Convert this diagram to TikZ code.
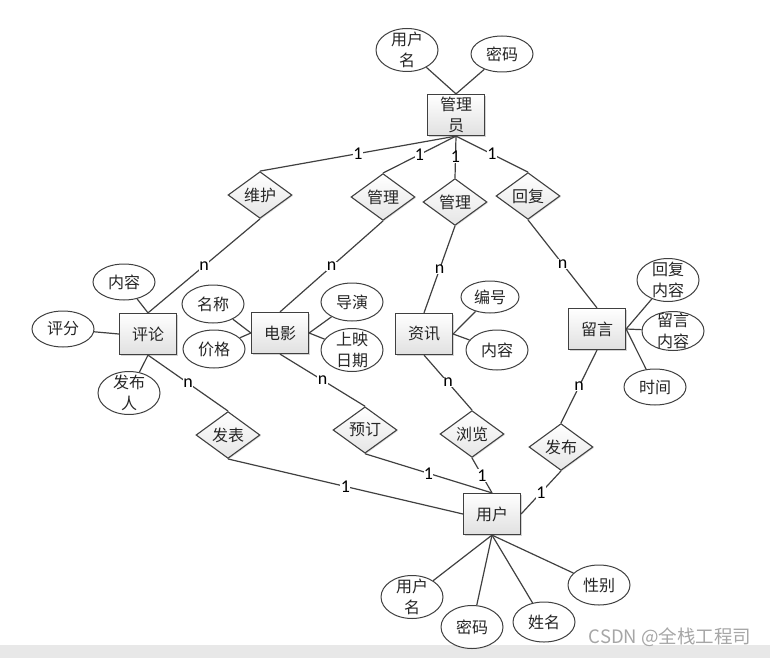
\documentclass[tikz,border=0pt]{standalone}
\usepackage{fontspec}
\setmainfont{Noto Sans CJK SC}
\newfontfamily\cardfont{Carlito}
\usetikzlibrary{shapes.geometric,shadows}
\definecolor{erline}{RGB}{64,64,64}
\definecolor{ertext}{RGB}{38,38,38}
\tikzset{
  er text/.style={font=\fontsize{16}{21}\selectfont,text=ertext},
  entity box/.style={er text,draw=erline,line width=1.2pt,align=center,
    minimum width=57pt,minimum height=41pt,inner sep=1pt,
    top color=white,bottom color=black!12,
    drop shadow={shadow xshift=1.3pt,shadow yshift=-1.3pt,opacity=0.35}},
  rel diamond/.style={er text,diamond,draw=erline,line width=1.1pt,
    minimum width=64pt,minimum height=39pt,inner sep=0pt,
    top color=white,bottom color=black!10,
    drop shadow={shadow xshift=1pt,shadow yshift=-1pt,opacity=0.25}},
  attr ellipse/.style={er text,ellipse,draw=erline,line width=1pt,fill=white,
    minimum width=62pt,minimum height=36pt,inner sep=0pt},
  two line/.style={attr ellipse,minimum height=43pt,
    label={[er text,align=center]center:#1}},
  er line/.style={draw=erline,line width=1.2pt},
  card label/.style={font=\cardfont\fontsize{18}{18}\selectfont,text=black,
    fill=white,inner sep=0.4pt,pos=0.5},
}

\begin{document}
\begin{tikzpicture}[x=1pt,y=-1pt]
  \useasboundingbox (0,0) rectangle (770,658);
  \fill[black!9] (0,645) rectangle (770,658);

  % Entities
  \node[entity box] (admin) at (456,115) {管理\\员};
  \node[entity box] (comment) at (148,334) {评论};
  \node[entity box] (movie) at (280,333) {电影};
  \node[entity box] (news) at (424,334) {资讯};
  \node[entity box] (message) at (597,329) {留言};
  \node[entity box] (user) at (492,514) {用户};

  % Relations
  \node[rel diamond] (maintain) at (260,195) {维护};
  \node[rel diamond] (managemovie) at (383,197) {管理};
  \node[rel diamond] (managenews) at (455,202) {管理};
  \node[rel diamond] (reply) at (528,196) {回复};
  \node[rel diamond] (post) at (228,435) {发表};
  \node[rel diamond] (book) at (365,430) {预订};
  \node[rel diamond] (browse) at (472,434) {浏览};
  \node[rel diamond] (publish) at (561,447) {发布};

  % Attributes
  \node[two line={用户\\名}] (aname) at (407,50) {};
  \node[attr ellipse] (apwd) at (502,54) {密码};
  \node[attr ellipse] (ccontent) at (124,282) {内容};
  \node[attr ellipse] (cscore) at (63,329) {评分};
  \node[two line={发布\\人}] (cauthor) at (129,393) {};
  \node[attr ellipse,minimum height=38pt] (mname) at (213,304) {名称};
  \node[attr ellipse,minimum height=38pt] (mprice) at (214,349) {价格};
  \node[attr ellipse,minimum height=38pt] (mdirector) at (352,302) {导演};
  \node[two line={上映\\日期}] (mdate) at (352,350) {};
  \node[attr ellipse,minimum width=58pt,minimum height=32pt] (nid) at (490,297) {编号};
  \node[attr ellipse,minimum height=40pt] (ncontent) at (497,350) {内容};
  \node[two line={回复\\内容}] (greply) at (668,280) {};
  \node[two line={留言\\内容},minimum height=39pt] (gcontent) at (673,331) {};
  \node[attr ellipse] (gtime) at (655,387) {时间};
  \node[two line={用户\\名}] (uname) at (412,597) {};
  \node[attr ellipse,minimum height=43pt] (upwd) at (472,627) {密码};
  \node[attr ellipse,minimum height=40pt] (urealname) at (544,622) {姓名};
  \node[attr ellipse,minimum height=40pt] (usex) at (599,585) {性别};

  % Attribute links
  \draw[er line] (aname) -- (admin.north);
  \draw[er line] (apwd) -- (admin.north);
  \draw[er line] (ccontent) -- (comment.north);
  \draw[er line] (cscore) -- (comment.west);
  \draw[er line] (cauthor) -- (comment.south);
  \draw[er line] (mname) -- (movie.west);
  \draw[er line] (mprice) -- (movie.west);
  \draw[er line] (mdirector) -- (movie.east);
  \draw[er line] (mdate) -- (movie.east);
  \draw[er line] (nid) -- (news.east);
  \draw[er line] (ncontent) -- (news.east);
  \draw[er line] (greply) -- (message.east);
  \draw[er line] (gcontent) -- (message.east);
  \draw[er line] (gtime) -- (message.east);
  \draw[er line] (uname) -- (user.south);
  \draw[er line] (upwd) -- (user.south);
  \draw[er line] (urealname) -- (user.south);
  \draw[er line] (usex) -- (user.south);

  % The administrator side carries 1, the managed side n.
  \draw[er line] (admin.south) -- node[card label] {1} (maintain.north);
  \draw[er line] (admin.south) -- node[card label] {1} (managemovie.north);
  \draw[er line] (admin.south) -- node[card label] {1} (managenews.north);
  \draw[er line] (admin.south) -- node[card label] {1} (reply.north);
  \draw[er line] (maintain.south) -- node[card label] {n} (comment.north);
  \draw[er line] (managemovie.south) -- node[card label] {n} (movie.north);
  \draw[er line] (managenews.south) -- node[card label] {n} (news.north);
  \draw[er line] (reply.south) -- node[card label] {n} (message.north);

  % Every user relation meets the user box.
  \draw[er line] (comment.south) -- node[card label] {n} (post.north);
  \draw[er line] (movie.south) -- node[card label] {n} (book.north);
  \draw[er line] (news.south) -- node[card label] {n} (browse.north);
  \draw[er line] (message.south) -- node[card label] {n} (publish.north);
  \draw[er line] (post.south) -- node[card label] {1} (user.west);
  \draw[er line] (book.south) -- node[card label] {1} (user.north);
  \draw[er line] (browse.south) -- node[card label] {1} (user.north);
  \draw[er line] (publish.south) -- node[card label] {1} (user.east);

  \node[font=\fontsize{18.5}{18.5}\selectfont,text=black!35,anchor=east]
    (mark) at (755,637) {CSDN @全栈工程司};
\end{tikzpicture}
\end{document}
